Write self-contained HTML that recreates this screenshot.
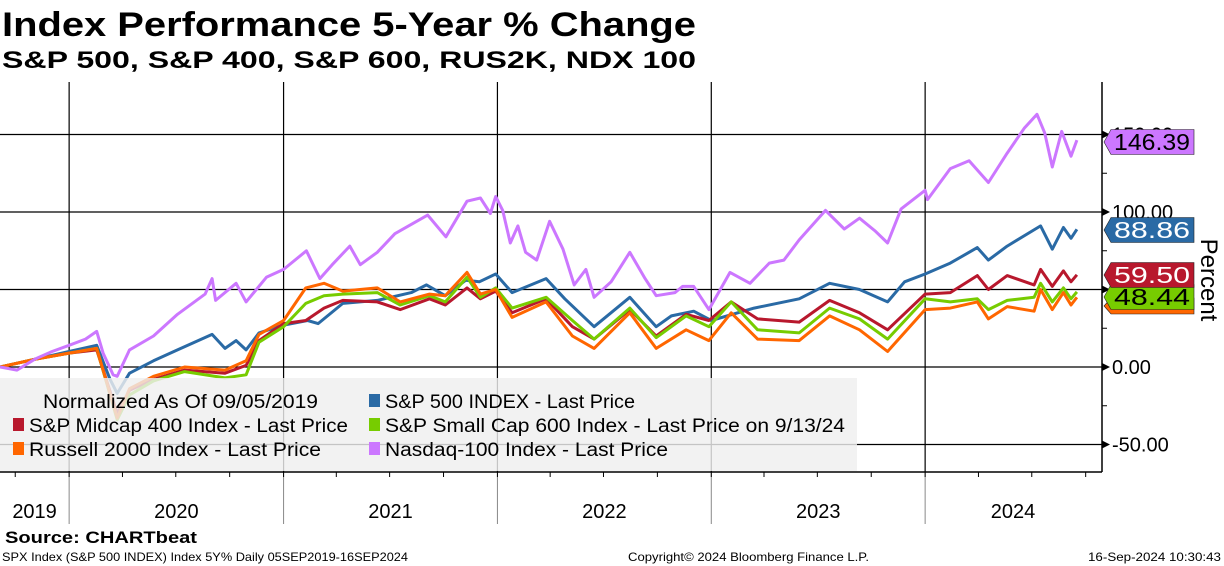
<!DOCTYPE html>
<html><head><meta charset="utf-8">
<style>
html,body{margin:0;padding:0;background:#fff;}
svg{display:block;}
text{font-family:"Liberation Sans",sans-serif;}
</style></head>
<body>
<svg id="chart" width="1224" height="566" viewBox="0 0 1224 566" xmlns="http://www.w3.org/2000/svg">
  <rect x="0" y="0" width="1224" height="566" fill="#fff"/>
  <text x="2" y="36" font-size="34" font-weight="bold" textLength="694" lengthAdjust="spacingAndGlyphs">Index Performance 5-Year % Change</text>
  <text x="2" y="68" font-size="24" font-weight="bold" textLength="694" lengthAdjust="spacingAndGlyphs">S&amp;P 500, S&amp;P 400, S&amp;P 600, RUS2K, NDX 100</text>
  <g id="grid"></g>
  <g id="series"></g>
  <g id="legend">
    <rect x="0" y="378" width="857" height="93" fill="#efefef" fill-opacity="0.82"/>
    <text x="43" y="408" font-size="19" textLength="275" lengthAdjust="spacingAndGlyphs">Normalized As Of 09/05/2019</text>
    <rect x="369" y="394" width="11" height="13" fill="#2a6aa5"/>
    <text x="385" y="408" font-size="19" textLength="250" lengthAdjust="spacingAndGlyphs">S&amp;P 500 INDEX - Last Price</text>
    <rect x="13" y="418" width="11" height="13" fill="#b8182d"/>
    <text x="29" y="432" font-size="19" textLength="319" lengthAdjust="spacingAndGlyphs">S&amp;P Midcap 400 Index - Last Price</text>
    <rect x="369" y="418" width="11" height="13" fill="#77cc00"/>
    <text x="385" y="432" font-size="19" textLength="460" lengthAdjust="spacingAndGlyphs">S&amp;P Small Cap 600 Index - Last Price on 9/13/24</text>
    <rect x="13" y="442" width="11" height="13" fill="#ff6600"/>
    <text x="29" y="456" font-size="19" textLength="292" lengthAdjust="spacingAndGlyphs">Russell 2000 Index - Last Price</text>
    <rect x="369" y="442" width="11" height="13" fill="#cc77ff"/>
    <text x="385" y="456" font-size="19" textLength="283" lengthAdjust="spacingAndGlyphs">Nasdaq-100 Index - Last Price</text>
  </g>
  <g id="axes"></g>
  <g id="tags"></g>
  <text transform="translate(1201,280) rotate(90)" font-size="24" text-anchor="middle">Percent</text>
  <text x="5" y="543" font-size="17" font-weight="bold" textLength="192" lengthAdjust="spacingAndGlyphs">Source:  CHARTbeat</text>
  <text x="2" y="561" font-size="12" textLength="406" lengthAdjust="spacingAndGlyphs">SPX Index (S&amp;P 500 INDEX) Index 5Y%  Daily 05SEP2019-16SEP2024</text>
  <text x="628" y="561" font-size="12" textLength="241" lengthAdjust="spacingAndGlyphs">Copyright© 2024 Bloomberg Finance L.P.</text>
  <text x="1088" y="561" font-size="12" textLength="133" lengthAdjust="spacingAndGlyphs">16-Sep-2024 10:30:43</text>
</svg>
<script>
var yTicks = [150, 100, 50, 0, -50];
var yTickLabels = ["150.00", "100.00", "50.00", "0.00", "-50.00"];
var yMinorTicks = [125, 75, 25, -25];
var years = ["2019", "2020", "2021", "2022", "2023", "2024"];
var yearStarts = ["2020-01-01", "2021-01-01", "2022-01-01", "2023-01-01", "2024-01-01"];

var ndxDates = ["2019-09-05","2019-10-04","2019-11-03","2019-12-03","2020-01-01","2020-01-29","2020-02-17","2020-02-28","2020-03-16","2020-03-23","2020-04-13","2020-05-24","2020-07-04","2020-08-20","2020-09-01","2020-09-07","2020-10-12","2020-10-29","2020-12-03","2021-01-01","2021-02-09","2021-03-04","2021-03-25","2021-04-24","2021-05-12","2021-06-10","2021-07-10","2021-09-04","2021-10-05","2021-11-10","2021-12-03","2021-12-20","2021-12-29","2022-01-10","2022-01-23","2022-02-05","2022-02-18","2022-03-09","2022-03-31","2022-04-23","2022-05-12","2022-06-01","2022-06-15","2022-07-14","2022-08-15","2022-09-10","2022-09-29","2022-10-31","2022-11-13","2022-12-02","2022-12-28","2023-02-02","2023-03-08","2023-04-10","2023-05-05","2023-05-31","2023-07-15","2023-08-16","2023-09-11","2023-10-07","2023-10-29","2023-11-21","2024-01-01","2024-01-05","2024-02-13","2024-03-16","2024-04-18","2024-05-20","2024-06-18","2024-07-10","2024-07-23","2024-08-05","2024-08-21","2024-09-06","2024-09-16"];
var ndxValues = [0,-2,5,10,14,18,23,9,-5,-6,11,20,34,47,57,43,54,42,58,63,75,57,66,78,66,74,86,98,84,107,109,99,110,101,80,91,74,69,94,76,53,63,45,55,74,57,46,48,52,52,37,61,54,67,69,82,101,89,96,88,80,102,114,108,128,133,119,138,154,163,151,129,152,136,146.39];

var spxDates = ["2019-09-05","2019-11-03","2020-01-01","2020-02-17","2020-03-11","2020-03-23","2020-04-13","2020-05-24","2020-07-04","2020-09-01","2020-09-23","2020-10-12","2020-10-29","2020-11-20","2021-01-01","2021-02-11","2021-03-01","2021-04-12","2021-06-10","2021-08-07","2021-09-02","2021-10-04","2021-11-08","2021-12-01","2021-12-29","2022-01-26","2022-03-25","2022-04-26","2022-06-15","2022-08-15","2022-09-29","2022-10-25","2022-12-02","2023-01-01","2023-03-15","2023-05-31","2023-07-22","2023-09-11","2023-10-29","2023-11-27","2024-01-01","2024-02-13","2024-03-30","2024-04-18","2024-05-20","2024-07-16","2024-08-05","2024-08-24","2024-09-06","2024-09-16"];
var spxValues = [0,5,10,14,-8,-17,-4,4,11,21,12,17,11,22,27,30,28,41,43,48,53,46,56,55,60,48,57,44,26,45,26,33,36,30,38,44,54,50,42,55,60,67,77,69,78,91,76,90,83,88.86];

var smallDates = ["2019-09-05","2019-11-03","2020-01-01","2020-02-17","2020-03-23","2020-04-13","2020-05-24","2020-07-16","2020-09-23","2020-10-29","2020-11-20","2021-01-01","2021-02-08","2021-03-11","2021-04-12","2021-06-10","2021-07-19","2021-09-07","2021-10-04","2021-11-10","2021-12-03","2021-12-29","2022-01-26","2022-03-25","2022-05-09","2022-06-15","2022-08-15","2022-09-29","2022-11-19","2022-12-28","2023-02-04","2023-03-21","2023-05-31","2023-07-22","2023-09-11","2023-10-29","2024-01-01","2024-02-13","2024-03-30","2024-04-18","2024-05-20","2024-07-05","2024-07-16","2024-08-05","2024-08-24","2024-09-06","2024-09-16"];
var midValues = [0,5,9,11,-30,-15,-8,-2,-4,1,17,28,30,38,43,42,37,44,40,51,44,49,35,44,26,18,37,20,34,30,42,31,29,43,35,24,47,48,59,50,59,53,63,52,62,55,59.50];
var smlValues = [0,5,9,12,-34,-18,-9,-3,-7,-5,16,26,41,46,47,48,40,46,42,58,45,51,38,45,30,18,38,19,33,26,42,24,22,38,31,18,44,42,44,37,43,45,54,42,51,44,48.44];
var rtyValues = [0,5,9,12,-33,-14,-6,0,-2,4,21,30,51,54,49,51,42,47,46,61,47,50,32,42,20,12,35,12,24,17,35,18,17,33,24,10,37,38,42,31,39,36,50,37,48,40,45];

var NS = "http://www.w3.org/2000/svg";
var X0 = 0, PX_PER_DAY = 214 / 365.25, START = Date.UTC(2019, 8, 5);
var Y0 = 367, PX_PER_UNIT = 1.55, PLOT_TOP = 82, PLOT_BOTTOM = 472, PLOT_RIGHT = 1102;
function xScale(d) { var p = d.split("-"); var t = Date.UTC(+p[0], +p[1] - 1, +p[2]); return X0 + (t - START) / 86400000 * PX_PER_DAY; }
function yScale(v) { return Y0 - v * PX_PER_UNIT; }
function mk(tag, attrs, parent) { var e = document.createElementNS(NS, tag); for (var k in attrs) e.setAttribute(k, attrs[k]); parent.appendChild(e); return e; }

var grid = document.getElementById("grid");
yTicks.forEach(function (v) {
  var l = mk("line", {x1: 0, x2: PLOT_RIGHT, y1: yScale(v), y2: yScale(v), stroke: "#000", "stroke-width": 1.3}, grid);
  
  
});
yearStarts.forEach(function (d) {
  var x = xScale(d);
  var l = mk("line", {x1: x, x2: x, y1: PLOT_TOP, y2: PLOT_BOTTOM, stroke: "#000", "stroke-width": 1.2}, grid);
  
  
  var l2 = mk("line", {x1: x, x2: x, y1: PLOT_BOTTOM, y2: 524, stroke: "#888", "stroke-width": 1}, grid);
  
  
});

var series = document.getElementById("series");
function drawLine(dates, vals, color, name) {
  var d = dates.map(function (dt, i) { return (i ? "L" : "M") + xScale(dt).toFixed(1) + "," + yScale(vals[i]).toFixed(1); }).join("");
  var p = mk("path", {d: d, fill: "none", stroke: color, "stroke-width": 3, "stroke-linejoin": "round"}, series);
  
  
}
drawLine(spxDates, spxValues, "#2a6aa5", "line-sp500");
drawLine(smallDates, midValues, "#b8182d", "line-sp400");
drawLine(smallDates, smlValues, "#77cc00", "line-sp600");
drawLine(smallDates, rtyValues, "#ff6600", "line-russell2000");
drawLine(ndxDates, ndxValues, "#cc77ff", "line-nasdaq100");

var axes = document.getElementById("axes");
var a1 = mk("line", {x1: 0, x2: PLOT_RIGHT, y1: PLOT_BOTTOM, y2: PLOT_BOTTOM, stroke: "#000", "stroke-width": 1.5}, axes);


var a2 = mk("line", {x1: PLOT_RIGHT, x2: PLOT_RIGHT, y1: PLOT_TOP, y2: PLOT_BOTTOM, stroke: "#000", "stroke-width": 1.5}, axes);


yTicks.forEach(function (v, i) {
  var y = yScale(v);
  var t = mk("path", {d: "M" + PLOT_RIGHT + "," + (y - 4) + "L" + (PLOT_RIGHT + 8) + "," + y + "L" + PLOT_RIGHT + "," + (y + 4) + "Z", fill: "#000"}, axes);
  
  
  var tx = mk("text", {x: 1112, y: y + 7, "font-size": 20}, axes);
  tx.textContent = yTickLabels[i];
  
  
});
yMinorTicks.forEach(function (v) {
  var y = yScale(v);
  var t = mk("line", {x1: PLOT_RIGHT, x2: PLOT_RIGHT + 5, y1: y, y2: y, stroke: "#000", "stroke-width": 1}, axes);
  
  
});
for (var y = 2019; y <= 2024; y++) {
  [1, 4, 7, 10].forEach(function (m) {
    var ds = y + "-" + (m < 10 ? "0" : "") + m + "-01";
    var x = xScale(ds);
    if (x < 2 || x > PLOT_RIGHT) return;
    var t = mk("line", {x1: x, x2: x, y1: PLOT_BOTTOM, y2: PLOT_BOTTOM + 5, stroke: "#000", "stroke-width": 1}, axes);
    
    
  });
}
var yearBounds = [xScale("2019-09-05")].concat(yearStarts.map(xScale)).concat([PLOT_RIGHT]);
years.forEach(function (yr, i) {
  var cx = (yearBounds[i] + yearBounds[i + 1]) / 2;
  if (i === 5) cx = 1013;
  var t = mk("text", {x: cx, y: 518, "font-size": 20, "text-anchor": "middle"}, axes);
  t.textContent = yr;
  
  
});

var tags = document.getElementById("tags");
var tagLabels = ["146.39", "88.86", "59.50", "48.44"];
var tagColors = ["#cc77ff", "#2a6aa5", "#b8182d", "#77cc00"];
var tagText = ["#000", "#fff", "#fff", "#000"];
var tagCenters = [142, 230, 275, 297];
function tag(cy, color, label, tc, name, h) {
  var g = mk("g", {}, tags);
  
  
  var x0 = 1104, x1 = 1111, x2 = 1194, hh = h / 2;
  mk("path", {d: "M" + x0 + "," + cy + "L" + x1 + "," + (cy - hh) + "L" + x2 + "," + (cy - hh) + "L" + x2 + "," + (cy + hh) + "L" + x1 + "," + (cy + hh) + "Z", fill: color, stroke: "#222", "stroke-width": 0.6}, g);
  if (label) { var t = mk("text", {x: 1114, y: cy + 8, "font-size": 23, fill: tc, textLength: 76, lengthAdjust: "spacingAndGlyphs"}, g); t.textContent = label; }
}
tag(306, "#ff6600", "", "#000", "tag-russell2000", 16);
for (var i = 3; i >= 0; i--) tag(tagCenters[i], tagColors[i], tagLabels[i], tagText[i], "tag-" + tagLabels[i], 25);
</script>
</body></html>
